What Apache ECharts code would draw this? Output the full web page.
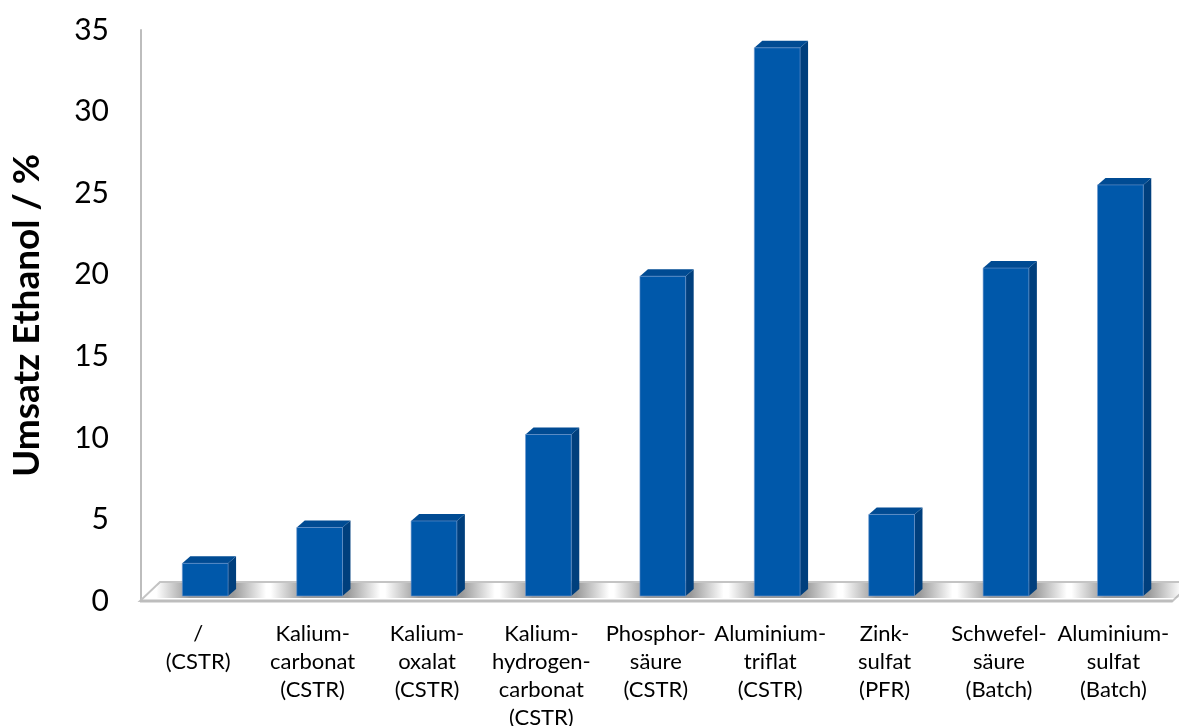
<!DOCTYPE html>
<html>
<head>
<meta charset="utf-8">
<script src="https://cdn.jsdelivr.net/npm/echarts@6/dist/echarts.min.js"></script>
<style>
  html, body { margin: 0; padding: 0; background: #ffffff; }
  #chart { width: 1179px; height: 726px; }
</style>
</head>
<body>
<div id="chart"></div>
<script>
// Catalyst / reactor type
const categories = [
  '/\n(CSTR)',
  'Kalium-\ncarbonat\n(CSTR)',
  'Kalium-\noxalat\n(CSTR)',
  'Kalium-\nhydrogen-\ncarbonat\n(CSTR)',
  'Phosphor-\nsäure\n(CSTR)',
  'Aluminium-\ntriflat\n(CSTR)',
  'Zink-\nsulfat\n(PFR)',
  'Schwefel-\nsäure\n(Batch)',
  'Aluminium-\nsulfat\n(Batch)'
];
// Ethanol conversion in %
const conversion = [2.0, 4.2, 4.6, 9.9, 19.6, 33.6, 5.0, 20.1, 25.2];
const yTicks = [0, 5, 10, 15, 20, 25, 30, 35];

const FONT = 'Lato, "Open Sans", sans-serif';
// pseudo-3D depth of the bars and floor
const DEPTH_X = 8, DEPTH_Y = 7;
const FLOOR_X = 20, FLOOR_Y = 19;

const chart = echarts.init(document.getElementById('chart'), null, { renderer: 'canvas' });

function renderFloor(params, api) {
  const band = api.size([1, 0])[0];
  const first = api.coord([0, 0]);
  const last = api.coord([categories.length - 1, 0]);
  const x0 = first[0] - band / 2 - 1;
  const x1 = last[0] + band / 2 + 2;
  const y0 = first[1];
  return {
    type: 'group',
    children: [
      {
        type: 'polygon',
        shape: { points: [[x0, y0], [x1, y0], [x1 + FLOOR_X, y0 - FLOOR_Y], [x0 + FLOOR_X, y0 - FLOOR_Y]] },
        style: { fill: '#ffffff', stroke: '#c4c4c4', lineWidth: 2 }
      },
      {
        type: 'line',
        shape: { x1: x0, y1: y0, x2: x1, y2: y0 },
        style: { stroke: '#bdbdbd', lineWidth: 3 }
      }
    ]
  };
}

function renderBar(params, api) {
  const idx = api.value(0);
  const v = api.value(1);
  const base = api.coord([idx, 0]);
  const top = api.coord([idx, v]);
  const band = api.size([1, 0])[0];
  const w = band * 0.40;
  const cx = base[0] + 7;
  const yb = base[1] - 5;
  const h = base[1] - top[1];
  const yt = yb - h;
  const xl = cx - w / 2, xr = cx + w / 2;
  return {
    type: 'group',
    children: [
      // soft floor shadow around the base
      {
        type: 'rect',
        shape: { x: xl - 26, y: yb - 13, width: w + DEPTH_X + 56, height: 15 },
        style: {
          fill: new echarts.graphic.LinearGradient(0, 0, 1, 0, [
            { offset: 0, color: 'rgba(110,110,110,0)' },
            { offset: 0.3, color: 'rgba(110,110,110,0.7)' },
            { offset: 0.7, color: 'rgba(110,110,110,0.7)' },
            { offset: 1, color: 'rgba(110,110,110,0)' }
          ])
        }
      },
      // side face
      {
        type: 'polygon',
        shape: { points: [[xr, yt], [xr + DEPTH_X, yt - DEPTH_Y], [xr + DEPTH_X, yb - DEPTH_Y], [xr, yb]] },
        style: { fill: '#003f7d' }
      },
      // top face
      {
        type: 'polygon',
        shape: { points: [[xl, yt], [xl + DEPTH_X, yt - DEPTH_Y], [xr + DEPTH_X, yt - DEPTH_Y], [xr, yt]] },
        style: { fill: '#004b93' }
      },
      // front face
      {
        type: 'rect',
        shape: { x: xl, y: yt, width: w, height: h },
        style: { fill: '#0058aa', stroke: 'rgba(110,150,205,0.6)', lineWidth: 1 }
      }
    ]
  };
}

chart.setOption({
  animation: false,
  backgroundColor: '#ffffff',
  grid: { left: 141, right: 8.4, top: 30, bottom: 125, outerBoundsMode: 'none', containLabel: false },
  xAxis: {
    type: 'category',
    data: categories,
    boundaryGap: true,
    axisLine: { show: false },
    axisTick: { show: false },
    axisLabel: {
      interval: 0,
      margin: 19,
      color: '#000000',
      fontFamily: FONT,
      fontSize: 22,
      lineHeight: 28,
      align: 'center',
      verticalAlign: 'top'
    }
  },
  yAxis: {
    type: 'value',
    min: 0,
    max: yTicks[yTicks.length - 1],
    interval: yTicks[1] - yTicks[0],
    name: 'Umsatz Ethanol / %',
    nameLocation: 'middle',
    nameRotate: 90,
    nameGap: 95,
    nameTextStyle: { color: '#000000', fontFamily: FONT, fontSize: 37, fontWeight: 'bold' },
    axisLine: { show: true, lineStyle: { color: '#bdbdbd', width: 2 } },
    axisTick: { show: false },
    splitLine: { show: false },
    axisLabel: { margin: 32, color: '#000000', fontFamily: FONT, fontSize: 30 }
  },
  series: [
    {
      type: 'custom',
      renderItem: renderFloor,
      clip: false,
      silent: true,
      encode: { x: 0, y: 1 },
      data: [[0, 0]],
      z: 1
    },
    {
      type: 'custom',
      renderItem: renderBar,
      clip: false,
      encode: { x: 0, y: 1 },
      data: conversion.map((v, i) => [i, v]),
      z: 2
    }
  ]
});
</script>
</body>
</html>
